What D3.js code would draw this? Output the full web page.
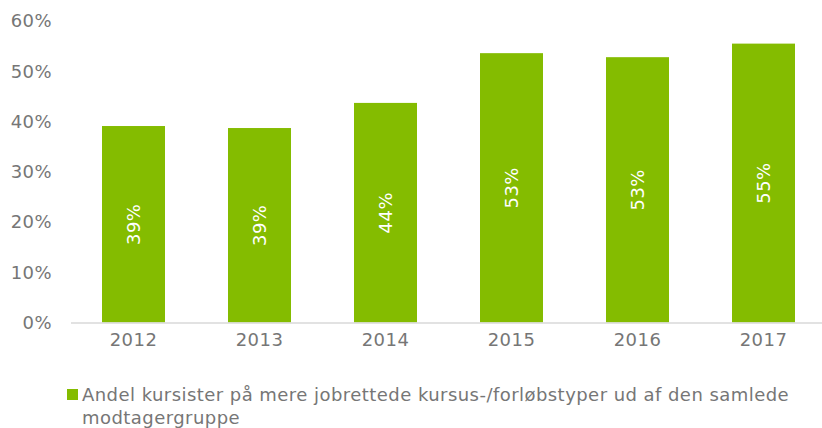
<!DOCTYPE html>
<html>
<head>
<meta charset="utf-8">
<script src="https://cdn.jsdelivr.net/npm/d3@7"></script>
<style>
  body { margin: 0; background: #fff; }
  text { font-family: "DejaVu Sans", Verdana, sans-serif; }
</style>
</head>
<body>
<svg id="chart" width="822" height="428"></svg>
<script>
var years = ["2012", "2013", "2014", "2015", "2016", "2017"];
var shares = [39.1, 38.7, 43.7, 53.6, 52.8, 55.5];
var labels = ["39%", "39%", "44%", "53%", "53%", "55%"];
var yTicks = [0, 10, 20, 30, 40, 50, 60];
var legendLines = ["Andel kursister på mere jobrettede kursus-/forløbstyper ud af den samlede", "modtagergruppe"];

var svg = d3.select("#chart");
var plotLeft = 70.5, plotRight = 826.5, plotTop = 21, plotBottom = 322.5;
var green = "#84bc00", grey = "#767676";
var fs = "18px", ls = "0.45px";

var x = d3.scaleBand().domain(years).range([plotLeft, plotRight]).paddingInner(0.5).paddingOuter(0.25);
var y = d3.scaleLinear().domain([0, 60]).range([plotBottom, plotTop]);

// y axis labels, no line
var yAxis = svg.append("g").attr("transform", "translate(52,0)")
    .call(d3.axisLeft(y).tickValues(yTicks).tickSize(0).tickPadding(0).tickFormat(function (d) { return d + "%"; }));
yAxis.select(".domain").remove();
yAxis.selectAll("text").attr("fill", grey).style("font-size", fs).style("letter-spacing", ls)
    .style("font-family", "DejaVu Sans");

svg.selectAll("rect.bar").data(shares).enter().append("rect")
    .attr("class", "bar")
    .attr("x", function (d, i) { return x(years[i]); })
    .attr("width", x.bandwidth())
    .attr("y", function (d) { return y(d); })
    .attr("height", function (d) { return plotBottom - y(d); })
    .attr("fill", green);

// x axis
var xAxis = svg.append("g").attr("transform", "translate(0," + plotBottom + ")")
    .call(d3.axisBottom(x).tickSize(0).tickPadding(11));
xAxis.select(".domain").attr("stroke", "#d9d9d9").attr("stroke-width", 1.5);
xAxis.selectAll("text").attr("fill", grey).style("font-size", fs).style("letter-spacing", ls)
    .style("font-family", "DejaVu Sans");

// rotated value labels
svg.selectAll("text.val").data(shares).enter().append("text")
    .attr("class", "val")
    .attr("transform", function (d, i) {
        var cx = x(years[i]) + x.bandwidth() / 2;
        var cy = (y(d) + plotBottom) / 2;
        return "translate(" + cx + "," + cy + ") rotate(-90)";
    })
    .attr("text-anchor", "middle")
    .attr("dy", "0.35em")
    .attr("fill", "#fff")
    .style("font-size", fs)
    .style("letter-spacing", ls)
    .text(function (d, i) { return labels[i]; });

// legend
svg.append("rect").attr("x", 67).attr("y", 389).attr("width", 11).attr("height", 11).attr("fill", green);
svg.selectAll("text.leg").data(legendLines).enter().append("text")
    .attr("class", "leg")
    .attr("x", 82)
    .attr("y", function (d, i) { return 401 + i * 22.5; })
    .attr("fill", grey)
    .style("font-size", fs)
    .style("letter-spacing", ls)
    .text(function (d) { return d; });
</script>
</body>
</html>
